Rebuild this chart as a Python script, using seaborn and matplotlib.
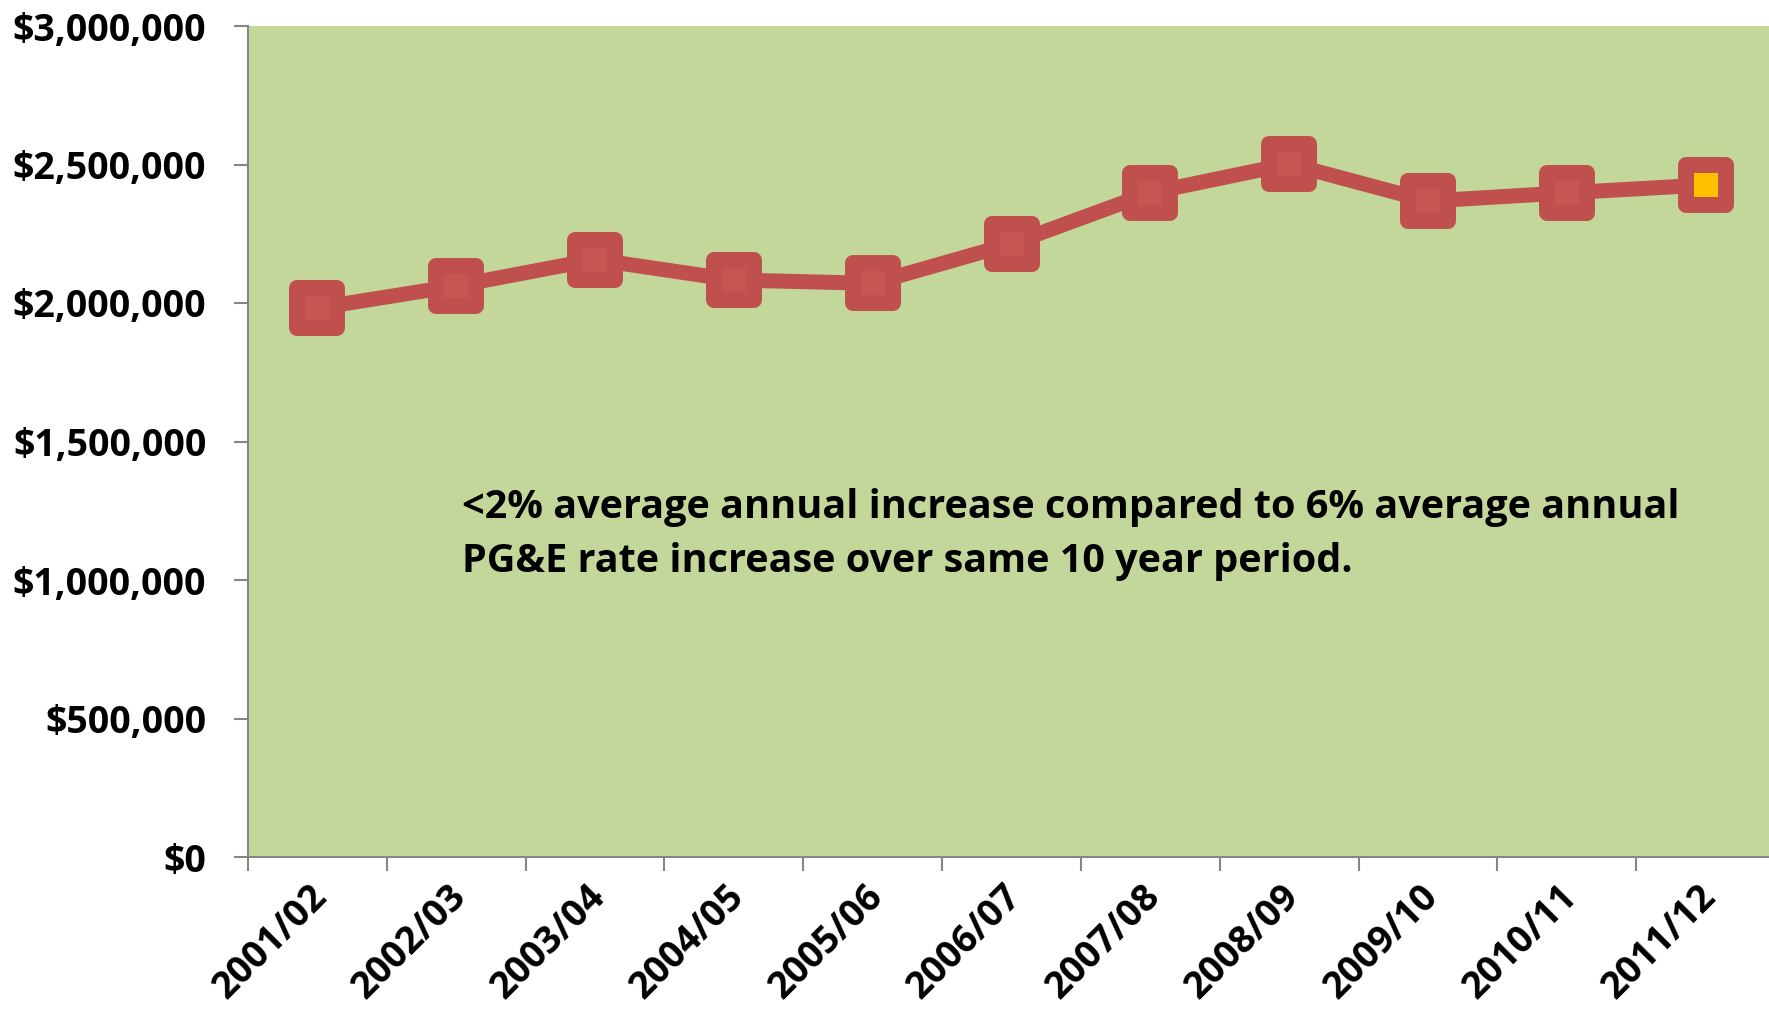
import matplotlib
matplotlib.use('Agg')
import matplotlib.pyplot as plt
from matplotlib.markers import MarkerStyle
from matplotlib.ticker import FuncFormatter, FixedLocator
from matplotlib.transforms import ScaledTranslation
import pandas as pd
import seaborn as sns

# values
years = ['2001/02', '2002/03', '2003/04', '2004/05', '2005/06', '2006/07',
         '2007/08', '2008/09', '2009/10', '2010/11', '2011/12']
cost = [1982000, 2062000, 2157000, 2083000, 2071000, 2214000,
        2398000, 2502000, 2368000, 2398000, 2426000]
y_ticks = [0, 500000, 1000000, 1500000, 2000000, 2500000, 3000000]
note = ('<2% average annual increase compared to 6% average annual\n'
        'PG&E rate increase over same 10 year period.')

df = pd.DataFrame({'year': years, 'cost': cost})

red = '#C0504D'
inner_red = '#C55652'
gold = '#FFC000'
grey = '#868686'

sns.set_theme(style='white')
plt.rcParams['font.family'] = ['Open Sans', 'DejaVu Sans']
plt.rcParams['font.weight'] = 'bold'
plt.rcParams['text.color'] = 'black'
plt.rcParams['xtick.color'] = 'black'
plt.rcParams['ytick.color'] = 'black'

fig = plt.figure(figsize=(17.69, 10.19), dpi=100)
ax = fig.add_axes([248 / 1769, 1 - 857 / 1019, 1527 / 1769, 831 / 1019])
ax.set_facecolor('#C4D79B')

sq = MarkerStyle('s', joinstyle='round')
sns.lineplot(data=df, x='year', y='cost', ax=ax, color=red, linewidth=10.8,
             marker=sq, markersize=29, markeredgewidth=11.5,
             markeredgecolor=red, markerfacecolor=red, sort=False)
sns.scatterplot(data=df.iloc[:-1], x='year', y='cost', ax=ax, marker='s',
                s=275, color=inner_red, linewidth=0, zorder=5)
sns.scatterplot(data=df.iloc[-1:], x='year', y='cost', ax=ax, marker='s',
                s=275, color=gold, linewidth=0, zorder=5)

ax.set_xlim(-0.5, len(years) - 0.5)
ax.set_ylim(0, 3000000)
ax.yaxis.set_major_locator(FixedLocator(y_ticks))
ax.yaxis.set_major_formatter(FuncFormatter(lambda v, p: '${:,.0f}'.format(v)))
ax.set_xlabel('')
ax.set_ylabel('')

# tick marks on category boundaries, labels at category centres
ax.set_xticks(range(len(years)))
ax.set_xticklabels(years, rotation=45, ha='right', rotation_mode='anchor',
                   fontsize=27, fontweight='bold', color='black')
ax.set_xticks([i - 0.5 for i in range(len(years) + 1)], minor=True)
ax.tick_params(axis='x', which='major', length=0, pad=16)
ax.tick_params(axis='x', which='minor', length=10, width=1.5, color=grey,
               direction='out', bottom=True)
ax.tick_params(axis='y', length=10, width=1.5, color=grey, direction='out',
               left=True, pad=20, labelsize=27, labelcolor='black')
for lab in ax.get_yticklabels():
    lab.set_fontweight('bold')
shift = ScaledTranslation(-0.09, 0.02, fig.dpi_scale_trans)
for lab in ax.get_xticklabels():
    lab.set_transform(lab.get_transform() + shift)

for side in ['top', 'right']:
    ax.spines[side].set_visible(False)
for side in ['left', 'bottom']:
    ax.spines[side].set_color(grey)
    ax.spines[side].set_linewidth(1.5)

ax.text(0.14, 0.444, note, transform=ax.transAxes, fontsize=28.5,
        fontweight='bold', va='top', ha='left', linespacing=1.5,
        color='black')

fig.savefig('out.png', dpi=100)
